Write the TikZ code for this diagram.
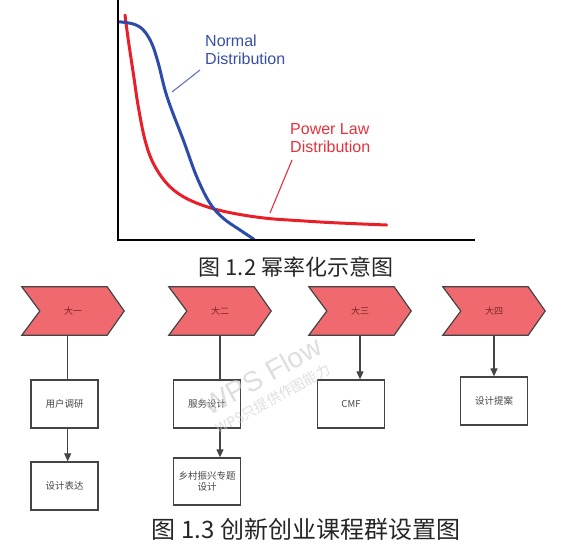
\documentclass[tikz,border=0pt]{standalone}
\usepackage{fontspec}
\setmainfont{Liberation Sans}
\newfontfamily\cjk{Noto Sans CJK SC}
\usetikzlibrary{arrows.meta,backgrounds}
\definecolor{bluec}{RGB}{45,75,170}
\definecolor{bluet}{RGB}{55,80,165}
\definecolor{redc}{RGB}{232,30,40}
\definecolor{redt}{RGB}{228,50,60}
\definecolor{chevfill}{RGB}{240,105,110}
\definecolor{chevtxt}{RGB}{120,40,40}
\definecolor{linec}{RGB}{68,68,68}
\definecolor{boxtxt}{RGB}{70,70,70}
\definecolor{wmark}{RGB}{200,200,200}
\begin{document}
\begin{tikzpicture}[x=1pt,y=-1pt,
  axisline/.style={line width=2.5pt,black},
  curveblue/.style={line width=3pt,bluec,line cap=round},
  curvered/.style={line width=3pt,redc,line cap=round},
  lab/.style={inner sep=0pt,anchor=north west,align=left,font=\fontsize{16}{18}\selectfont},
  chevtext/.style={minimum width=102pt,minimum height=48pt,inner sep=0pt,font=\cjk\fontsize{9}{10}\selectfont,text=chevtxt},
  chevdraw/.style={draw=linec,line width=1.2pt,fill=chevfill,line join=miter},
  boxnode/.style={draw=linec,line width=1.3pt,fill=white,minimum width=67pt,minimum height=48pt,inner sep=0pt,align=center,font=\cjk\fontsize{9.5}{11.5}\selectfont,text=boxtxt},
  conn/.style={draw=linec,line width=1.2pt},
  arr/.style={conn,-{Triangle[length=8pt,width=7pt]}},
  caption/.style={inner sep=0pt,font=\cjk\fontsize{#1}{#1}\selectfont,text=black!85}
]
\useasboundingbox (0,0) rectangle (580,558);

% ---- chart ----
\draw[curvered] plot[smooth,tension=0.6] coordinates {(125,15) (128.3,40) (133.3,73.3) (138.3,106.7) (145,140) (153.3,163.3) (166.7,183.3) (183.3,196.7) (206.7,206.7) (233.3,213.3) (266.7,218.3) (300,220.7) (333.3,222.7) (386.7,225)};
\draw[curveblue] plot[smooth,tension=0.6] coordinates {(118.3,21.7) (133.3,24) (143.3,30) (151.7,43.3) (158.3,63.3) (165,90) (171.7,110) (183.3,140) (196.7,176.7) (210,203.3) (223.3,218.3) (240,230) (254,239.3)};
\draw[axisline] (118,0) -- (118,240) -- (475,240);
\node[lab,text=bluet] (nl) at (205,35) {Normal\\Distribution};
\node[lab,text=redt] (pl) at (290,123) {Power Law\\Distribution};
\coordinate (nlend) at (172,92);
\coordinate (plend) at (270,213);
\draw[bluet!80,line width=1.1pt] (200,70) -- (nlend);
\draw[redt,line width=1.1pt] (292,160) -- (plend);
\node[caption=22] (cap1) at (296,267) {图 1.2 幂率化示意图};

% ---- flow ----
\node[chevtext] (c1) at (73,311) {大一};
\node[chevtext] (c2) at (220,311) {大二};
\node[chevtext] (c3) at (360,311) {大三};
\node[chevtext] (c4) at (494,311) {大四};
\begin{pgfonlayer}{background}
\foreach \c in {c1,c2,c3,c4}
  \draw[chevdraw] (\c.north west) -- ([xshift=-17pt]\c.north east) -- (\c.east) -- ([xshift=-17pt]\c.south east) -- (\c.south west) -- ([xshift=18pt]\c.west) -- cycle;
\end{pgfonlayer}

\node[boxnode] (b1) at (64.5,404) {用户调研};
\node[boxnode] (b2) at (64.5,486) {设计表达};
\node[boxnode] (b3) at (207,404) {服务设计};
\node[boxnode,minimum height=47pt] (b4) at (207,481.5) {乡村振兴专题\\设计};
\node[boxnode] (b5) at (351,404) {CMF};
\node[boxnode] (b6) at (494,401) {设计提案};

\coordinate (k1) at (67.7,0);
\draw[conn] (c1.south -| k1) -- (b1.north -| k1);
\draw[arr] (b1.south -| k1) -- (b2.north -| k1);
\draw[conn] (c2.south) -- (c2.south |- b3.north);
\draw[arr] (b3.south -| c2) -- (b4.north -| c2);
\draw[arr] (c3.south) -- (c3.south |- b5.north);
\draw[arr] (c4.south) -- (c4.south |- b6.north);

\node[caption=24] (cap2) at (306,529) {图 1.3 创新创业课程群设置图};

% ---- watermark ----
\node[inner sep=0pt,rotate=29,text=wmark,opacity=0.6,font=\fontsize{28}{28}\selectfont] (wm1) at (262,376) {WPS Flow};
\node[inner sep=0pt,rotate=29,text=wmark,opacity=0.6,font=\cjk\fontsize{14}{14}\selectfont] (wm2) at (273,399) {WPS只提供作图能力};
\end{tikzpicture}
\end{document}
